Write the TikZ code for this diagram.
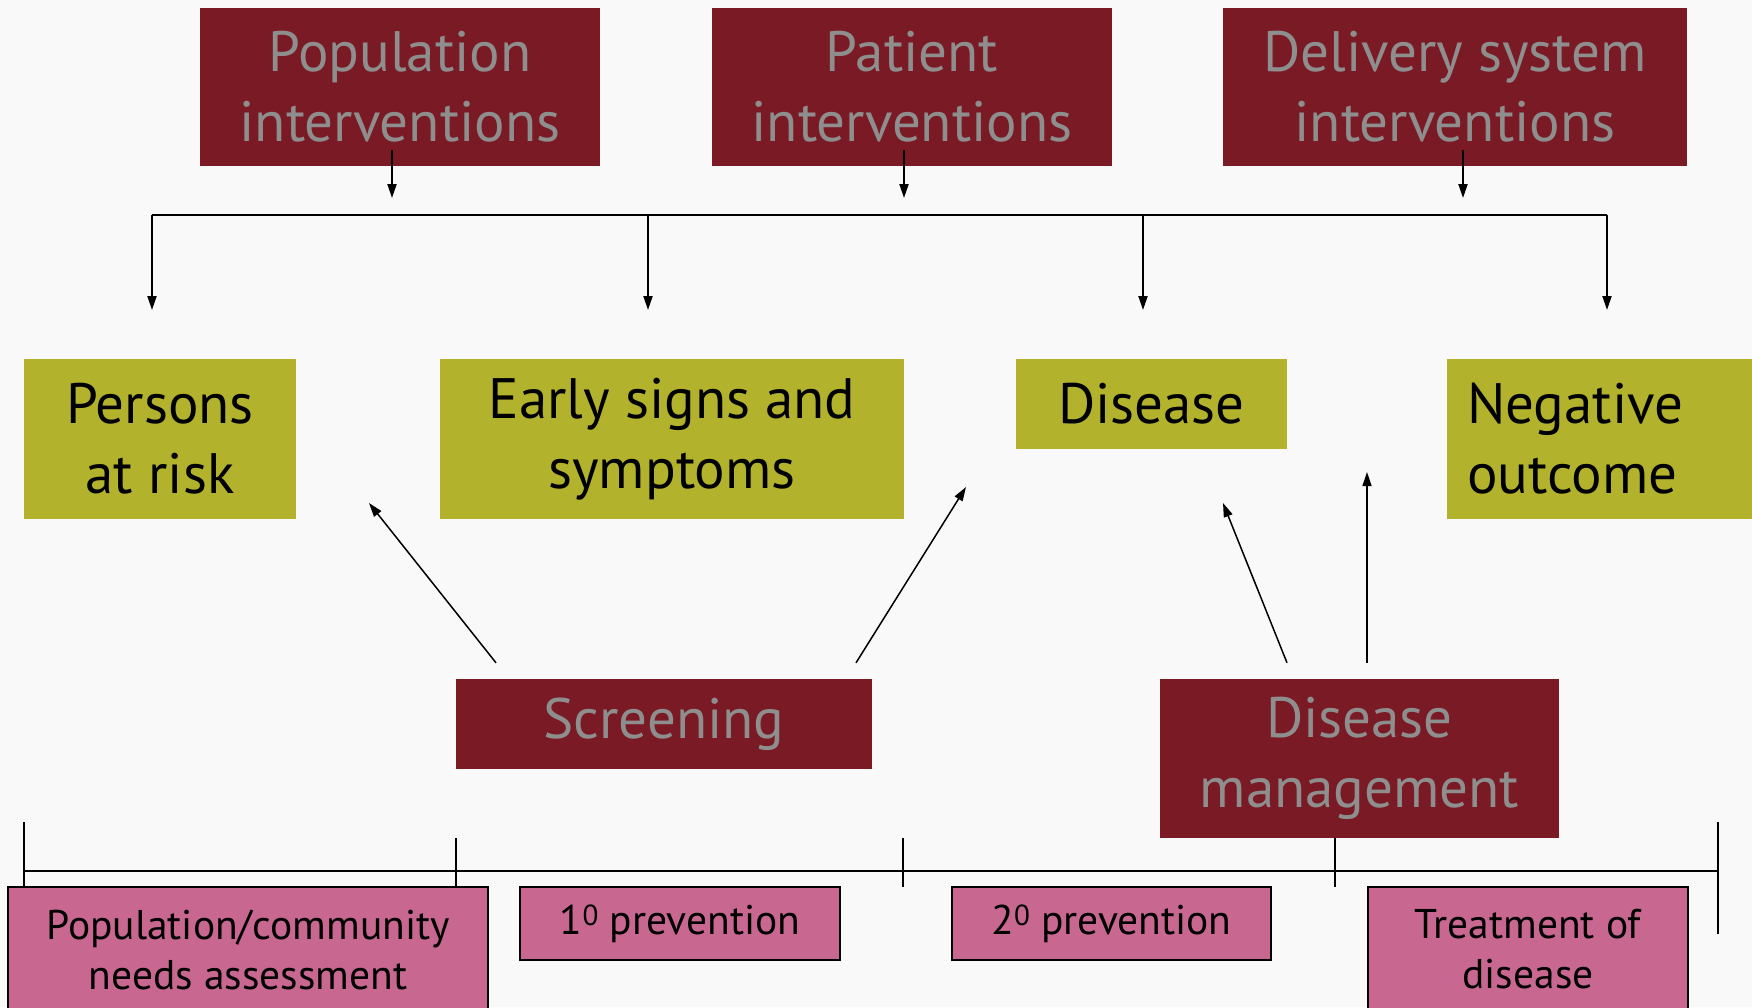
\documentclass[tikz,border=0pt]{standalone}
\usepackage{fontspec}
\setmainfont{PT Sans}
\usetikzlibrary{arrows.meta,calc}
\definecolor{bg}{HTML}{F9F9F9}
\definecolor{wine}{HTML}{7A1A25}
\definecolor{wtext}{HTML}{8E8E8E}
\definecolor{olive}{HTML}{B3B22D}
\definecolor{pinkbox}{HTML}{C86891}
\begin{document}
\begin{tikzpicture}[x=1pt,y=-1pt,
  bigfont/.style={font=\fontsize{57}{70}\selectfont},
  smallfont/.style={font=\fontsize{41.5}{50}\selectfont},
  winebox/.style={bigfont, fill=wine, text=wtext, align=center, inner sep=0pt, draw=none},
  olivebox/.style={bigfont, fill=olive, text=black, align=center, inner sep=0pt, draw=none},
  pinkb/.style={smallfont, fill=pinkbox, text=black, align=center, inner sep=0pt, draw=black, line width=2pt},
  arr/.style={-{Triangle[length=14pt,width=9pt]}, line width=2pt},
  thinarr/.style={-{Triangle[length=14pt,width=9pt]}, line width=1.5pt},
  rule/.style={line width=2pt},
  tick/.style={line width=1.6pt}]
\useasboundingbox (0,0) rectangle (1752,1007);
\fill[bg] (0,0) rectangle (1752,1007);

% top intervention boxes
\node[winebox, minimum width=400pt, minimum height=158pt] (pop) at (400,87) {Population\\interventions};
\node[winebox, minimum width=400pt, minimum height=158pt] (pat) at (912,87) {Patient\\interventions};
\node[winebox, minimum width=464pt, minimum height=158pt] (del) at (1455,87) {Delivery system\\interventions};

% stage boxes
\node[olivebox, minimum width=272pt, minimum height=160pt] (risk) at (160,439) {Persons\\at risk};
\node[olivebox, minimum width=464pt, minimum height=160pt] (early) at (672,439) {Early signs and\\symptoms};
\node[olivebox, minimum width=271pt, minimum height=90pt] (dis) at (1151.5,404) {Disease};
\node[olivebox, anchor=west, text width=265pt, inner xsep=20pt, align=left, minimum height=160pt] (neg) at (1447,439) {Negative\\outcome};

% middle boxes
\node[winebox, minimum width=416pt, minimum height=90pt] (scr) at (664,724) {Screening};
\node[winebox, minimum width=399pt, minimum height=159pt] (dm) at (1359.5,758.5) {Disease\\management};

% bus
\coordinate (busL) at (152,215);
\coordinate (busR) at (1607,215);
\coordinate (b2) at (648,215);
\coordinate (b3) at (1143,215);
\coordinate (t1) at (152,310);
\coordinate (t2) at (648,310);
\coordinate (t3) at (1143,310);
\coordinate (t4) at (1607,310);
\draw[rule] (busL) -- (busR);
\draw[arr] (busL) -- (t1);
\draw[arr] (b2) -- (t2);
\draw[arr] (b3) -- (t3);
\draw[arr] (busR) -- (t4);

% arrows from top boxes to bus
\coordinate (p1) at (392,198);
\coordinate (p2) at (904,198);
\coordinate (p3) at (1463,198);
\draw[arr] (pop.south -| p1) ++(0,-16) -- (p1);
\draw[arr] (pat.south -| p2) ++(0,-16) -- (p2);
\draw[arr] (del.south -| p3) ++(0,-16) -- (p3);

% arrows from screening and disease management
\coordinate (s1) at (369,503);
\coordinate (s2) at (966,487);
\coordinate (m1) at (1223,503);
\coordinate (m2) at (1367,472);
\draw[thinarr] ([xshift=-168pt,yshift=16pt]scr.north) -- (s1);
\draw[thinarr] ([xshift=192pt,yshift=16pt]scr.north) -- (s2);
\draw[thinarr] ([xshift=-72.5pt,yshift=16pt]dm.north) -- (m1);
\draw[thinarr] ([xshift=7.5pt,yshift=16pt]dm.north) -- (m2);

% timeline
\coordinate (tl0) at (24,871);
\coordinate (tl4) at (1718,871);
\draw[rule] (tl0) -- (tl4);
\draw[tick] (24,822) -- (24,887);
\draw[tick] (456,838) -- (456,887);
\draw[tick] (903,838) -- (903,887);
\draw[tick] (1335,838) -- (1335,887);
\draw[tick] (1718,822) -- (1718,934);

% phase boxes
\node[pinkb, minimum width=480pt, minimum height=125pt] (needs) at (248,949.5) {Population/community\\needs assessment};
\node[pinkb, minimum width=320pt, minimum height=73pt] (prev1) at (680,923.5) {1\textsuperscript{0} prevention};
\node[pinkb, minimum width=319pt, minimum height=73pt] (prev2) at (1111.5,923.5) {2\textsuperscript{0} prevention};
\node[pinkb, minimum width=320pt, minimum height=125pt] (treat) at (1528,949.5) {Treatment of\\disease};
\end{tikzpicture}
\end{document}
